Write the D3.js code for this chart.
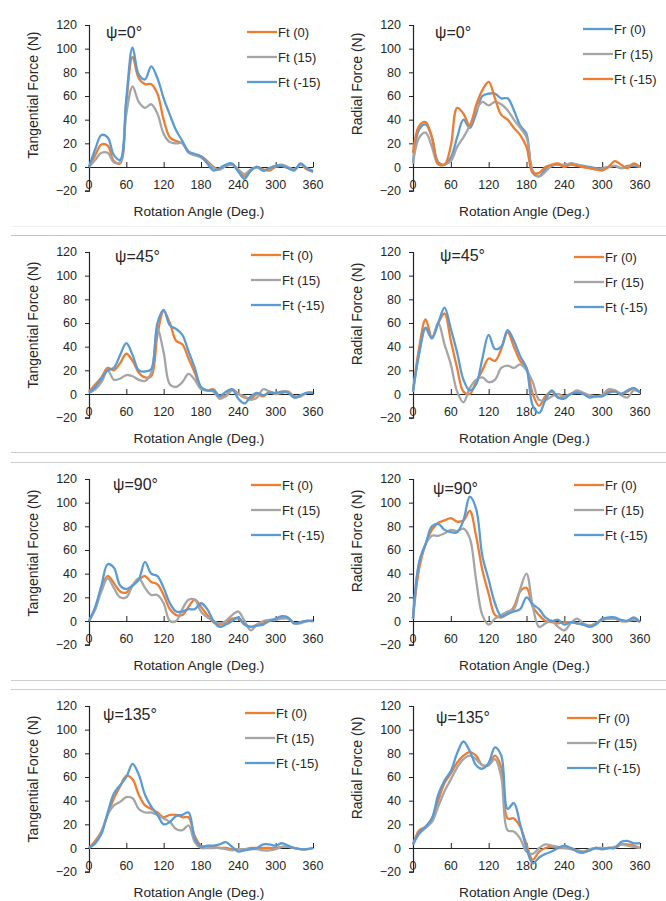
<!DOCTYPE html>
<html>
<head>
<meta charset="utf-8">
<script src="https://cdn.jsdelivr.net/npm/d3@7"></script>
<style>
  body { margin: 0; background: #fff; }
  text { font-family: "Liberation Sans", Arial, sans-serif; fill: #262626; }
</style>
</head>
<body>
<div id="chart"></div>
<script>
// rotation angle samples (deg)
const angles = [0,10,20,30,40,50,60,70,80,90,100,110,120,130,140,150,160,170,180,
                190,200,210,220,230,240,250,260,270,280,290,300,310,320,330,340,350,360];
const xTicks = [0,60,120,180,240,300,360];
const yTicks = [-20,0,20,40,60,80,100,120];
const tanNames = ["Ft (0)", "Ft (15)", "Ft (-15)"];
const radNames = ["Fr (0)", "Fr (15)", "Ft (-15)"];
const psiLabels = ["ψ=0°", "ψ=0°", "ψ=45°", "ψ=45°", "ψ=90°", "ψ=90°", "ψ=135°", "ψ=135°"];

// psi = 0
const ft0_psi0   = [0,10,19,18,5,3,55,93,75,70,70,62,40,25,22,20,13,10,9,5,0,-2,1,2,-3,-8,-3,0,-2,-3,0,1,-1,-2,2,-2,-4];
const ft15_psi0  = [0,6,12,12,4,4,45,68,55,50,53,45,28,21,20,20,12,10,8,4,-1,-2,1,2,-2,-6,-2,0,-3,-1,1,2,0,-2,2,-1,-3];
const ftm15_psi0 = [0,15,27,25,10,6,58,101,78,74,85,75,58,44,31,22,13,11,9,3,-3,-1,2,3,-4,-10,-3,0,-3,-1,1,1,-1,-3,3,-1,-4];
const fr0_psi0   = [3,32,36,25,4,2,8,25,40,33,45,60,62,62,58,58,48,35,28,-5,-8,-2,1,2,1,3,2,1,0,-1,-1,0,1,-1,1,1,0];
const fr15_psi0  = [3,25,29,17,2,2,5,17,25,35,48,55,52,55,53,48,40,33,25,-3,-8,-4,1,2,2,3,2,0,-1,-2,-2,0,1,-1,0,2,0];
const frm15_psi0 = [12,35,38,25,3,2,18,50,45,35,52,65,72,58,44,40,33,27,17,-5,-5,0,2,3,0,2,1,0,-1,-2,-3,0,5,2,-1,3,0];

// psi = 45
const ft0_psi45   = [2,8,14,22,20,26,34,28,18,14,15,50,70,60,45,42,30,18,5,3,4,-2,-1,4,0,-3,-4,0,-2,2,0,1,2,-2,-2,1,1];
const ft15_psi45  = [1,4,10,20,12,13,16,15,12,11,18,55,35,8,6,10,17,12,4,3,2,-4,-2,3,0,-2,-5,-3,4,2,0,2,2,-3,-2,1,1];
const ftm15_psi45 = [1,6,13,20,22,33,43,33,20,19,21,60,71,58,55,50,36,22,6,3,3,-2,2,4,-4,-8,-2,1,-1,1,1,2,1,-3,-1,1,1];
const fr0_psi45   = [2,40,63,48,60,68,45,22,2,0,10,20,30,28,38,52,40,28,22,0,-10,-2,2,-3,-2,0,2,0,-2,-2,-1,2,3,0,2,5,1];
const fr15_psi45  = [2,35,55,47,60,42,25,2,-7,5,12,14,10,12,22,24,22,25,20,10,-5,-5,-2,0,-2,0,3,1,-1,-2,-1,4,3,-1,-3,3,2];
const frm15_psi45 = [2,35,56,47,60,73,55,35,12,3,8,30,50,38,40,54,45,32,22,-10,-16,-5,3,-3,-4,0,1,0,-3,-2,-2,1,2,0,3,5,1];

// psi = 90
const ft0_psi90   = [0,10,28,38,32,25,24,30,35,38,33,31,22,10,5,5,12,18,12,5,-1,-3,-1,2,2,-3,-5,-3,-2,0,1,3,2,-2,-1,0,0];
const ft15_psi90  = [0,10,25,36,28,20,20,30,36,28,22,22,15,0,0,10,18,18,8,3,0,-2,0,5,8,0,-8,-3,0,1,1,2,2,-2,-2,0,0];
const ftm15_psi90 = [0,12,30,48,45,30,27,30,35,50,40,38,28,15,8,8,10,10,15,10,0,-5,-3,0,3,-3,-5,-4,-3,0,2,4,3,-2,-1,0,0];
const fr0_psi90   = [2,45,65,77,83,85,87,84,85,93,72,43,23,5,3,6,12,25,28,12,5,0,-1,-2,-1,-1,-2,-3,-4,-2,1,2,2,0,0,2,-1];
const fr15_psi90  = [2,50,65,72,72,74,77,76,78,70,35,5,-3,2,5,8,10,27,40,12,-5,-2,0,-5,-8,-2,2,-2,-4,-2,1,2,2,0,0,1,0];
const frm15_psi90 = [2,50,65,80,82,77,75,75,85,105,95,55,35,15,4,6,8,10,20,14,10,3,0,1,-3,-1,-2,-3,-5,-3,2,3,3,1,0,3,-1];

// psi = 135
const ft0_psi135   = [0,6,14,28,42,52,61,58,45,36,33,30,26,28,28,26,26,10,2,1,1,0,0,-1,-1,-1,0,0,0,0,0,1,1,0,-1,-1,0];
const ft15_psi135  = [0,4,14,28,36,39,43,42,33,30,30,28,25,22,16,15,19,5,0,0,0,0,-1,-2,-1,-1,-1,-1,-2,-2,-1,1,1,0,-1,-1,0];
const ftm15_psi135 = [0,4,12,30,46,53,60,71,62,45,35,28,20,22,27,28,30,8,1,2,2,3,5,1,-3,-2,-1,0,3,3,2,4,2,0,-1,-1,0];
const fr0_psi135   = [3,15,18,25,40,55,63,72,78,81,78,70,70,78,68,25,25,18,3,-10,-3,0,1,0,0,0,-2,-3,-2,0,-1,0,0,3,3,2,0];
const fr15_psi135  = [3,12,17,22,35,48,58,68,75,78,75,70,70,75,60,15,14,8,-3,-5,0,3,2,1,0,-1,-2,-3,-1,0,0,0,1,3,2,1,0];
const frm15_psi135 = [3,13,18,25,45,57,65,80,90,82,70,67,72,85,78,33,38,20,0,-13,-8,-5,-3,0,2,0,-3,-4,-2,0,-1,0,0,5,6,4,4];

const orange = "#ED7D31", gray = "#A5A5A5", blue = "#5B9BD5";

// panel table built from the arrays above
const panels = [
  {title: "Tangential Force (N)", names: tanNames, psi: psiLabels[0], values: [ft0_psi0, ft15_psi0, ftm15_psi0], colors: [orange, gray, blue]},
  {title: "Radial Force (N)",     names: radNames, psi: psiLabels[1], values: [fr0_psi0, fr15_psi0, frm15_psi0], colors: [blue, gray, orange]},
  {title: "Tangential Force (N)", names: tanNames, psi: psiLabels[2], values: [ft0_psi45, ft15_psi45, ftm15_psi45], colors: [orange, gray, blue]},
  {title: "Radial Force (N)",     names: radNames, psi: psiLabels[3], values: [fr0_psi45, fr15_psi45, frm15_psi45], colors: [orange, gray, blue]},
  {title: "Tangential Force (N)", names: tanNames, psi: psiLabels[4], values: [ft0_psi90, ft15_psi90, ftm15_psi90], colors: [orange, gray, blue]},
  {title: "Radial Force (N)",     names: radNames, psi: psiLabels[5], values: [fr0_psi90, fr15_psi90, frm15_psi90], colors: [orange, gray, blue]},
  {title: "Tangential Force (N)", names: tanNames, psi: psiLabels[6], values: [ft0_psi135, ft15_psi135, ftm15_psi135], colors: [orange, gray, blue]},
  {title: "Radial Force (N)",     names: radNames, psi: psiLabels[7], values: [fr0_psi135, fr15_psi135, frm15_psi135], colors: [orange, gray, blue]}
];

// placement of each panel (axis origin, legend and psi label offsets)
const place = [
  {ax: 89,  w: 224, y0: 167, lx: 158, ly: -135, px: 17, py: -129, ty: -72},
  {ax: 413, w: 227, y0: 167, lx: 170, ly: -138, px: 22, py: -129, ty: -83},
  {ax: 89,  w: 224, y0: 394, lx: 162, ly: -139, px: 26, py: -132, ty: -69},
  {ax: 413, w: 227, y0: 394, lx: 161, ly: -137, px: 27, py: -133, ty: -80},
  {ax: 89,  w: 224, y0: 621, lx: 162, ly: -136, px: 24, py: -131, ty: -68},
  {ax: 413, w: 227, y0: 621, lx: 161, ly: -136, px: 20, py: -127, ty: -80},
  {ax: 89,  w: 224, y0: 848, lx: 156, ly: -135, px: 14, py: -128, ty: -69},
  {ax: 413, w: 227, y0: 848, lx: 154, ly: -130, px: 23, py: -125, ty: -80}
];

const svg = d3.select("#chart").append("svg")
  .attr("width", 666)
  .attr("height", 901);

// separators between rows
[[226, "#eeeeee"], [235, "#c4c4c4"], [452, "#cccccc"], [462, "#cccccc"], [680, "#cccccc"], [689, "#cccccc"]]
  .forEach(([yy, c]) => {
    svg.append("line")
      .attr("x1", 11).attr("x2", 666)
      .attr("y1", yy + 0.5).attr("y2", yy + 0.5)
      .attr("stroke", c).attr("stroke-width", 1.2);
  });

panels.forEach((p, i) => {
  const L = place[i];
  const unit = 23.67 / 20;
  const x = d3.scaleLinear().domain([0, 360]).range([L.ax, L.ax + L.w]);
  const y = d3.scaleLinear().domain([-20, 120]).range([L.y0 + 20 * unit, L.y0 - 120 * unit]);
  const g = svg.append("g");

  // y axis
  const yAxis = g.append("g")
    .attr("transform", `translate(${L.ax},0)`)
    .call(d3.axisLeft(y).tickValues(yTicks).tickSize(4).tickPadding(8));
  yAxis.select(".domain").attr("stroke", "#222").attr("stroke-width", 1.2);
  yAxis.selectAll(".tick line").attr("stroke", "#222");
  yAxis.selectAll(".tick text").attr("font-size", 12.5).attr("fill", "#262626")
    .style("font-family", "'Liberation Sans', Arial, sans-serif");

  // x axis sits on zero, labels below the plot
  const xAxis = g.append("g")
    .attr("transform", `translate(0,${y(0)})`)
    .call(d3.axisTop(x).tickValues(xTicks).tickSize(5).tickSizeOuter(0).tickFormat(""));
  xAxis.select(".domain").attr("stroke", "#222").attr("stroke-width", 1.2);
  xAxis.selectAll(".tick line").attr("stroke", "#222");

  g.selectAll(".xlab")
    .data(xTicks)
    .join("text")
      .attr("x", d => x(d))
      .attr("y", y(0) + 22)
      .attr("text-anchor", "middle")
      .attr("font-size", 12.5)
      .text(d => d);

  // axis titles
  g.append("text")
    .attr("x", L.ax + L.w / 2 - 2)
    .attr("y", L.y0 + 49)
    .attr("text-anchor", "middle")
    .attr("font-size", 13.7)
    .text("Rotation Angle (Deg.)");

  g.append("text")
    .attr("transform", `translate(${L.ax - 51},${L.y0 + L.ty}) rotate(-90)`)
    .attr("text-anchor", "middle")
    .attr("font-size", 14)
    .text(p.title);

  // lines
  const line = d3.line()
    .x((d, k) => x(angles[k]))
    .y(d => y(d))
    .curve(d3.curveCatmullRom.alpha(0.5));

  g.selectAll(".series")
    .data(p.values)
    .join("path")
      .attr("fill", "none")
      .attr("stroke", (d, k) => p.colors[k])
      .attr("stroke-width", 2.3)
      .attr("stroke-linejoin", "round")
      .attr("d", line);

  // psi label
  g.append("text")
    .attr("x", L.ax + L.px)
    .attr("y", L.y0 + L.py)
    .attr("font-size", 16)
    .attr("fill", "#111")
    .text(p.psi);

  // legend
  p.names.forEach((name, k) => {
    const ly = L.y0 + L.ly + k * 25;
    g.append("line")
      .attr("x1", L.ax + L.lx).attr("x2", L.ax + L.lx + 30)
      .attr("y1", ly).attr("y2", ly)
      .attr("stroke", p.colors[k]).attr("stroke-width", 2.3);
    g.append("text")
      .attr("x", L.ax + L.lx + 31)
      .attr("y", ly + 4.5)
      .attr("font-size", 13)
      .text(name);
  });
});
</script>
</body>
</html>
